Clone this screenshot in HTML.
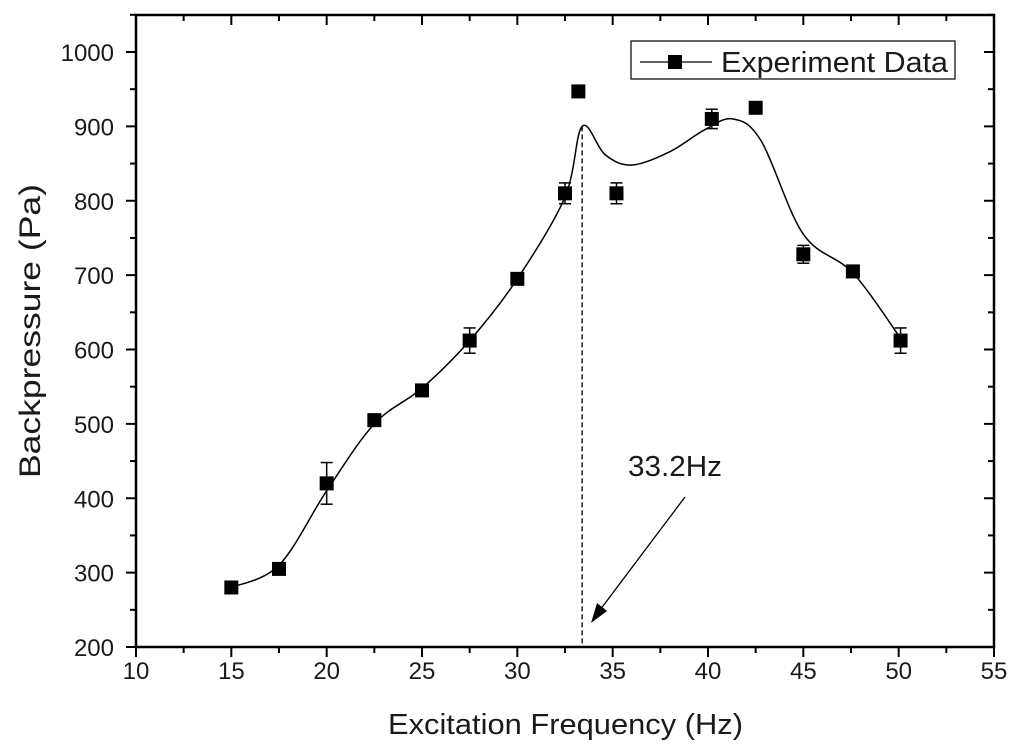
<!DOCTYPE html>
<html><head><meta charset="utf-8"><style>
body{margin:0;background:#fff;}
svg{display:block;font-family:"Liberation Sans",Arial,sans-serif;}
</style></head><body>
<svg id="chart" width="1024" height="756" viewBox="0 0 1024 756" xmlns="http://www.w3.org/2000/svg"></svg>
<script>
const xTicks=[10,15,20,25,30,35,40,45,50,55];
const yTicks=[200,300,400,500,600,700,800,900,1000];
const dataX=[15,17.5,20,22.5,25,27.5,30,32.5,33.2,35.2,40.2,42.5,45,47.6,50.1];
const dataY=[280,305,420,505,545,612,695,810,947,810,910,925,728,705,612];
const dataErr=[0,0,28,0,0,17,0,14,0,14,13,0,12,0,17];
const curveX=[15,17.5,20,22.5,25,27.5,30,32.5,33.4,34.6,36,38,39.8,41.3,42.8,45,47.6,50.1];
const curveY=[280,310,410,500,548,612,695,805,900,862,848,866,895,910,880,755,703,615];
const peakX=[33.4];
const peakY=[900];

const svg=document.getElementById('chart');
const NS='http://www.w3.org/2000/svg';
const L=136,R=994,T=15,B=647;
const sx=v=>L+(v-10)*(R-L)/45;
const sy=v=>B-(v-200)*(B-52)/800;
function mk(tag,attrs,parent){const e=document.createElementNS(NS,tag);for(const k in attrs)e.setAttribute(k,attrs[k]);(parent||svg).appendChild(e);return e;}

const frame=mk('rect',{x:L,y:T,width:R-L,height:B-T,fill:'none',stroke:'#000','stroke-width':2.5});



const xg=mk('g',{});


xTicks.forEach((t,i)=>{
  const x=sx(t);
  mk('line',{x1:x,y1:B,x2:x,y2:B+10,stroke:'#000','stroke-width':2},xg);
  mk('line',{x1:x,y1:T,x2:x,y2:T+10,stroke:'#000','stroke-width':2},xg);
  if(i<xTicks.length-1){const xm=sx(t+2.5);
    mk('line',{x1:xm,y1:B,x2:xm,y2:B+6,stroke:'#000','stroke-width':2},xg);
    mk('line',{x1:xm,y1:T,x2:xm,y2:T+6,stroke:'#000','stroke-width':2},xg);}
  const tx=mk('text',{x:x,y:B+32,'text-anchor':'middle','font-size':24,fill:'#1a1a1a'},xg);
  tx.textContent=t;
  
  
});
const yg=mk('g',{});


yTicks.forEach((t,i)=>{
  const y=sy(t);
  mk('line',{x1:L-10,y1:y,x2:L,y2:y,stroke:'#000','stroke-width':2},yg);
  mk('line',{x1:R-10,y1:y,x2:R,y2:y,stroke:'#000','stroke-width':2},yg);
  const ym=sy(t+50);
  mk('line',{x1:L-6,y1:ym,x2:L,y2:ym,stroke:'#000','stroke-width':2},yg);
  mk('line',{x1:R-6,y1:ym,x2:R,y2:ym,stroke:'#000','stroke-width':2},yg);
  const tx=mk('text',{x:L-22,y:y+9,'text-anchor':'end','font-size':24,fill:'#1a1a1a'},yg);
  tx.textContent=t;
  
  
});
const xt=mk('text',{x:388,y:734,'font-size':29,fill:'#1a1a1a',textLength:355,lengthAdjust:'spacingAndGlyphs'});
xt.textContent='Excitation Frequency (Hz)';


const yt=mk('text',{x:40,y:478,'font-size':30,fill:'#1a1a1a',textLength:294,lengthAdjust:'spacingAndGlyphs',transform:'rotate(-90 40 478)'});
yt.textContent='Backpressure (Pa)';



const P=curveX.map((x,i)=>[sx(x),sy(curveY[i])]);
let d='M'+P[0][0]+','+P[0][1];
for(let i=0;i<P.length-1;i++){
  const p0=P[Math.max(0,i-1)],p1=P[i],p2=P[i+1],p3=P[Math.min(P.length-1,i+2)];
  const c1=[p1[0]+(p2[0]-p0[0])/6,p1[1]+(p2[1]-p0[1])/6];
  const c2=[p2[0]-(p3[0]-p1[0])/6,p2[1]-(p3[1]-p1[1])/6];
  d+=' C'+c1[0]+','+c1[1]+' '+c2[0]+','+c2[1]+' '+p2[0]+','+p2[1];
}
const curve=mk('path',{d:d,fill:'none',stroke:'#000','stroke-width':1.5});



const dash=mk('line',{x1:sx(peakX[0]),y1:sy(peakY[0]),x2:sx(peakX[0]),y2:B,stroke:'#000','stroke-width':1.3,'stroke-dasharray':'5,3'});



const pg=mk('g',{});


dataX.forEach((x,i)=>{
  const cx=sx(x),cy=sy(dataY[i]);
  if(dataErr[i]>0){
    const y1=sy(dataY[i]+dataErr[i]),y2=sy(dataY[i]-dataErr[i]);
    mk('line',{x1:cx,y1:y1,x2:cx,y2:y2,stroke:'#000','stroke-width':1.5},pg);
    mk('line',{x1:cx-6,y1:y1,x2:cx+6,y2:y1,stroke:'#000','stroke-width':1.5},pg);
    mk('line',{x1:cx-6,y1:y2,x2:cx+6,y2:y2,stroke:'#000','stroke-width':1.5},pg);
  }
  const r=mk('rect',{x:cx-7,y:cy-7,width:14,height:14,fill:'#000'},pg);
  
  
});

const ann=mk('text',{x:628,y:476,'font-size':29,fill:'#1a1a1a',textLength:94,lengthAdjust:'spacingAndGlyphs'});
ann.textContent='33.2Hz';


const arr=mk('line',{x1:685,y1:497,x2:600,y2:610,stroke:'#000','stroke-width':1.3});


const head=mk('polygon',{points:'591,623 597,603 607,611',fill:'#000'});



const lg=mk('g',{});


mk('rect',{x:631,y:41,width:324,height:38,fill:'#fff',stroke:'#000','stroke-width':1.2},lg);
mk('line',{x1:640,y1:62,x2:712,y2:62,stroke:'#000','stroke-width':1.3},lg);
mk('rect',{x:668,y:55,width:14,height:14,fill:'#000'},lg);
const lt=mk('text',{x:721,y:72,'font-size':29,fill:'#1a1a1a',textLength:227,lengthAdjust:'spacingAndGlyphs'},lg);
lt.textContent='Experiment Data';


</script>
</body></html>
